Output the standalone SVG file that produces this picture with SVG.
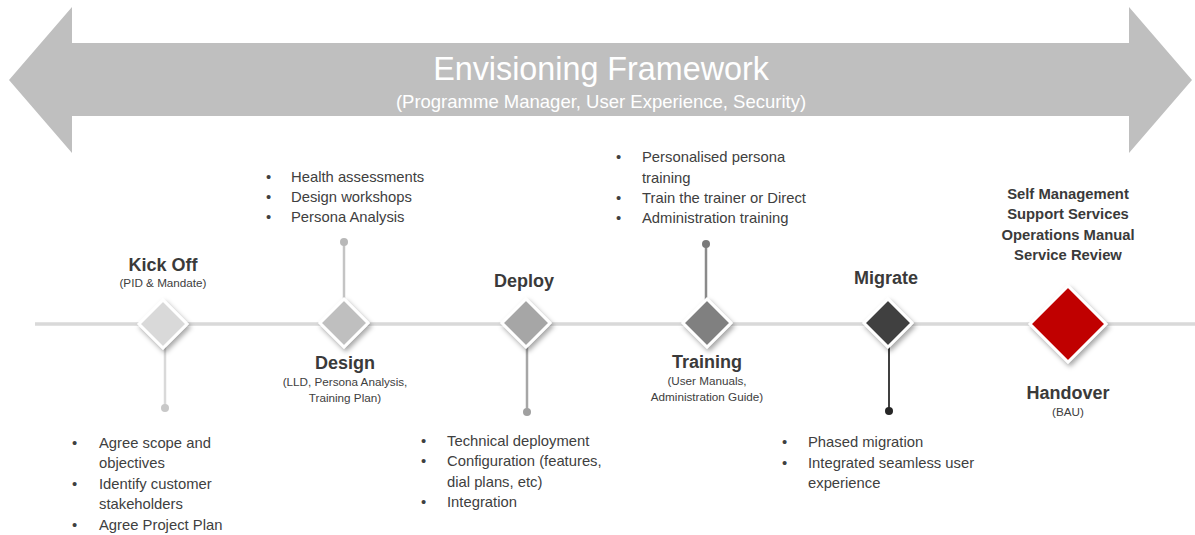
<svg xmlns="http://www.w3.org/2000/svg" width="1195" height="535" viewBox="0 0 1195 535">
<defs>
<filter id="sh" x="-40%" y="-40%" width="180%" height="180%">
<feDropShadow dx="2" dy="3" stdDeviation="2.5" flood-color="#000" flood-opacity="0.35"/>
</filter>
<style>
text{font-family:"Liberation Sans",Arial,sans-serif;fill:#404040}
.h{font-weight:bold;font-size:18px;text-anchor:middle;fill:#3a3a3a}
.s{font-size:11.7px;text-anchor:middle}
.b{font-size:14.8px}
.k{font-weight:bold;font-size:14.8px;text-anchor:middle;fill:#3a3a3a}
.dm{stroke:#fff;stroke-width:3;filter:url(#sh)}
.sw{stroke:#fff;stroke-width:6}
</style>
</defs>
<rect width="1195" height="535" fill="#fff"/>
<g id="banner">
<polygon points="9,80 72,7 72,43 1129,43 1129,7 1192,80 1129,153 1129,116 72,116 72,153" fill="#bfbfbf"/>
<text x="601" y="80" text-anchor="middle" font-size="32.3" style="fill:#fff">Envisioning Framework</text>
<text x="601" y="108" text-anchor="middle" font-size="18.5" style="fill:#fff">(Programme Manager, User Experience, Security)</text>
</g>
<g id="connectors">
<line x1="35" y1="324" x2="1195" y2="324" stroke="#fff" stroke-width="7"/>
<line x1="35" y1="324" x2="1195" y2="324" stroke="#d9d9d9" stroke-width="3.5"/>
<line class="sw" x1="165" y1="330" x2="165" y2="408"/>
<line x1="165" y1="330" x2="165" y2="408" stroke="#d9d9d9" stroke-width="2.5"/>
<circle cx="165" cy="408" r="4" fill="#c8c8c8"/>
<line class="sw" x1="344" y1="318" x2="344" y2="242"/>
<line x1="344" y1="318" x2="344" y2="242" stroke="#c4c4c4" stroke-width="2.5"/>
<circle cx="344" cy="242" r="4" fill="#b8b8b8"/>
<line class="sw" x1="527" y1="330" x2="527" y2="412"/>
<line x1="527" y1="330" x2="527" y2="412" stroke="#a6a6a6" stroke-width="2.5"/>
<circle cx="527" cy="412" r="4" fill="#a0a0a0"/>
<line class="sw" x1="706" y1="318" x2="706" y2="244"/>
<line x1="706" y1="318" x2="706" y2="244" stroke="#8a8a8a" stroke-width="2.5"/>
<circle cx="706" cy="244" r="4" fill="#7a7a7a"/>
<line class="sw" x1="889" y1="330" x2="889" y2="411"/>
<line x1="889" y1="330" x2="889" y2="411" stroke="#404040" stroke-width="2"/>
<circle cx="889" cy="411" r="4" fill="#262626"/>
</g>
<g id="kickoff">
<polygon class="dm" points="163,300 187,324 163,348 139,324" fill="#d9d9d9"/>
<text class="h" x="163" y="271">Kick Off</text>
<text class="s" x="163" y="287">(PID &amp; Mandate)</text>
<text class="b" x="72" y="448">•</text><text class="b" x="99" y="448">Agree scope and</text>
<text class="b" x="99" y="468">objectives</text>
<text class="b" x="72" y="489">•</text><text class="b" x="99" y="489">Identify customer</text>
<text class="b" x="99" y="509">stakeholders</text>
<text class="b" x="72" y="530">•</text><text class="b" x="99" y="530">Agree Project Plan</text>
</g>
<g id="design">
<polygon class="dm" points="344,299 368,323 344,347 320,323" fill="#bfbfbf"/>
<text class="h" x="345" y="369">Design</text>
<text class="s" x="345" y="386">(LLD, Persona Analysis,</text>
<text class="s" x="345" y="402">Training Plan)</text>
<text class="b" x="266" y="182">•</text><text class="b" x="291" y="182">Health assessments</text>
<text class="b" x="266" y="202">•</text><text class="b" x="291" y="202">Design workshops</text>
<text class="b" x="266" y="222">•</text><text class="b" x="291" y="222">Persona Analysis</text>
</g>
<g id="deploy">
<polygon class="dm" points="526,299 550,323 526,347 502,323" fill="#a6a6a6"/>
<text class="h" x="524" y="287">Deploy</text>
<text class="b" x="421" y="446">•</text><text class="b" x="447" y="446">Technical deployment</text>
<text class="b" x="421" y="466">•</text><text class="b" x="447" y="466">Configuration (features,</text>
<text class="b" x="447" y="487">dial plans, etc)</text>
<text class="b" x="421" y="507">•</text><text class="b" x="447" y="507">Integration</text>
</g>
<g id="training">
<polygon class="dm" points="707,299 731,323 707,347 683,323" fill="#808080"/>
<text class="h" x="707" y="368">Training</text>
<text class="s" x="707" y="385">(User Manuals,</text>
<text class="s" x="707" y="401">Administration Guide)</text>
<text class="b" x="616" y="162">•</text><text class="b" x="642" y="162">Personalised persona</text>
<text class="b" x="642" y="183">training</text>
<text class="b" x="616" y="203">•</text><text class="b" x="642" y="203">Train the trainer or Direct</text>
<text class="b" x="616" y="223">•</text><text class="b" x="642" y="223">Administration training</text>
</g>
<g id="migrate">
<polygon class="dm" points="888,299 912,323 888,347 864,323" fill="#404040"/>
<text class="h" x="886" y="284">Migrate</text>
<text class="b" x="782" y="447">•</text><text class="b" x="808" y="447">Phased migration</text>
<text class="b" x="782" y="468">•</text><text class="b" x="808" y="468">Integrated seamless user</text>
<text class="b" x="808" y="488">experience</text>
</g>
<g id="handover">
<polygon class="dm" points="1068,286 1106,324 1068,362 1030,324" fill="#c00000"/>
<text class="h" x="1068" y="399">Handover</text>
<text class="s" x="1068" y="416">(BAU)</text>
<text class="k" x="1068" y="199">Self Management</text>
<text class="k" x="1068" y="219">Support Services</text>
<text class="k" x="1068" y="240">Operations Manual</text>
<text class="k" x="1068" y="260">Service Review</text>
</g>
</svg>
